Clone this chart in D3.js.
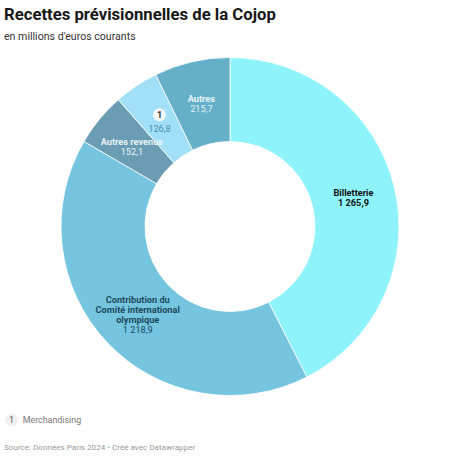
<!DOCTYPE html>
<html>
<head>
<meta charset="utf-8">
<script src="https://cdn.jsdelivr.net/npm/d3@7"></script>
<style>
  body { margin: 0; background: #fff; font-family: Roboto, 'Noto Sans', sans-serif; }
</style>
</head>
<body>
<div id="chart"></div>
<script>
const categories = ['Billetterie', 'Contribution du Comité international olympique', 'Autres revenus', 'Merchandising', 'Autres'];
const values = [1265.9, 1218.9, 152.1, 126.8, 215.7];
const colors = ['#8ff3fc', '#75c4e0', '#6a9cb3', '#a2e0f7', '#65afc9'];
// how each label is drawn: name lines, or a footnote marker
const labelLines = [['Billetterie'], ['Contribution du', 'Comité international', 'olympique'], ['Autres revenus'], null, ['Autres']];
const footnotes = [null, null, null, '1', null];

const size = { width: 460, height: 456 };
const center = { x: 230, y: 226.5 };
const outer = 169;
const inner = 85;

const fmt = (v) => d3.format(',.1f')(v).replace(/,/g, ' ').replace('.', ',');

const data = categories.map((c, i) => ({
  name: c, value: values[i], color: colors[i], lines: labelLines[i], note: footnotes[i],
}));

const svg = d3.select('#chart')
  .append('svg')
  .attr('width', size.width)
  .attr('height', size.height);

svg.append('text')
  .text('Recettes prévisionnelles de la Cojop')
  .attr('x', 4).attr('y', 19.5)
  .attr('font-size', '16.7px').attr('font-weight', 700)
  .attr('fill', '#181818');

svg.append('text')
  .text("en millions d'euros courants")
  .attr('x', 4).attr('y', 39.5)
  .attr('font-size', '10.6px')
  .attr('fill', '#333');

const pie = d3.pie().sort(null).value((d) => d.value);
const arc = d3.arc().innerRadius(inner).outerRadius(outer);
const labelArc = d3.arc().innerRadius((inner + outer) / 2).outerRadius((inner + outer) / 2);

const g = svg.append('g').attr('transform', `translate(${center.x}, ${center.y})`);

const arcs = pie(data);

g.selectAll('path.slice')
  .data(arcs)
  .enter()
  .append('path')
  .attr('class', 'slice')
  .attr('d', arc)
  .attr('fill', (d) => d.data.color)
  .attr('stroke', '#fff')
  .attr('stroke-width', 0.8);

const textStyle = [
  { name: '#111', value: '#111', valueWeight: 700 },
  { name: '#1c4b5c', value: '#1c4b5c', valueWeight: 400 },
  { name: '#e8f3f7', value: '#e8f3f7', valueWeight: 400 },
  { name: '#333', value: '#4a8eab', valueWeight: 400 },
  { name: '#e8f6fa', value: '#e0f2f8', valueWeight: 400 },
];

arcs.forEach((d, i) => {
  const [cx, cy] = labelArc.centroid(d);
  const st = textStyle[i];
  const lh = 10;
  const lab = g.append('g').attr('transform', `translate(${cx}, ${cy})`);
  if (d.data.note) {
    lab.append('circle')
      .attr('cx', 0).attr('cy', -6).attr('r', 6.5)
      .attr('fill', '#f2f7f9');
    lab.append('text')
      .text(d.data.note)
      .attr('x', 0).attr('y', -2.8)
      .attr('text-anchor', 'middle')
      .attr('font-size', '9px').attr('font-weight', 700)
      .attr('fill', st.name);
    lab.append('text')
      .text(fmt(d.data.value))
      .attr('x', 0).attr('y', 11.5)
      .attr('text-anchor', 'middle')
      .attr('font-size', '9.2px')
      .attr('fill', st.value);
    return;
  }
  const n = d.data.lines.length + 1;
  const top = -((n - 1) * lh) / 2 + 4.5;
  d.data.lines.forEach((line, j) => {
    lab.append('text')
      .text(line)
      .attr('x', 0).attr('y', top + j * lh)
      .attr('text-anchor', 'middle')
      .attr('font-size', '9.2px').attr('font-weight', 700)
      .attr('fill', st.name);
  });
  lab.append('text')
    .text(fmt(d.data.value))
    .attr('x', 0).attr('y', top + (n - 1) * lh)
    .attr('text-anchor', 'middle')
    .attr('font-size', '9.2px').attr('font-weight', st.valueWeight)
    .attr('fill', st.value);
});

// footnote legend
const legend = svg.append('g').attr('transform', 'translate(11.5, 420)');
legend.append('circle').attr('r', 6.5).attr('fill', '#f0f0f0');
legend.append('text')
  .text('1')
  .attr('y', 3.2)
  .attr('text-anchor', 'middle')
  .attr('font-size', '9px')
  .attr('fill', '#555');
legend.append('text')
  .text('Merchandising')
  .attr('x', 11.2).attr('y', 3.2)
  .attr('font-size', '8.9px')
  .attr('fill', '#777');

svg.append('text')
  .text('Source: Données Paris 2024 • Créé avec Datawrapper')
  .attr('x', 4).attr('y', 450)
  .attr('font-size', '8.1px')
  .attr('fill', '#9a9a9a');
</script>
</body>
</html>
